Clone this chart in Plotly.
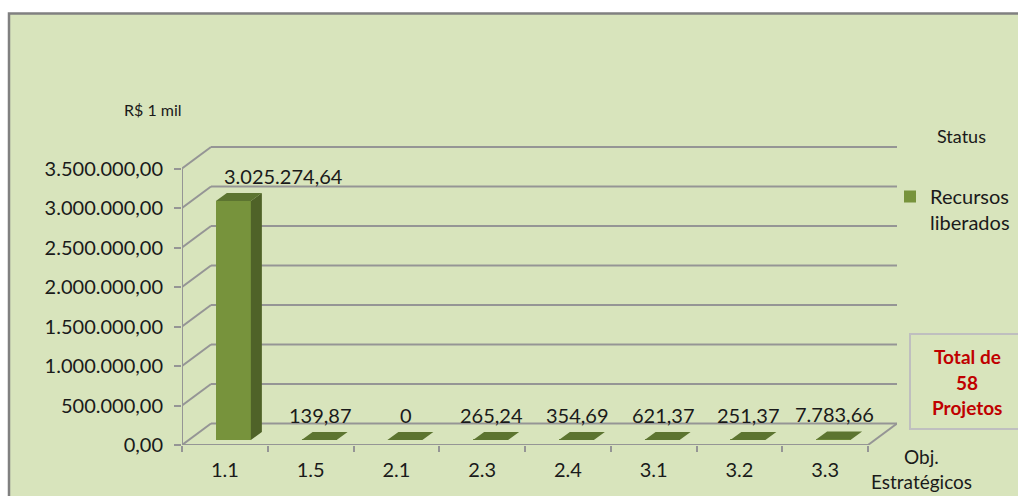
import plotly.graph_objects as go

# ---------------- data ----------------
categories = ["1.1", "1.5", "2.1", "2.3", "2.4", "3.1", "3.2", "3.3"]
values = [3025274.64, 139.87, 0, 265.24, 354.69, 621.37, 251.37, 7783.66]
value_labels = ["3.025.274,64", "139,87", "0", "265,24", "354,69", "621,37", "251,37", "7.783,66"]
series_name = "Recursos<br>liberados"
y_tickvals = [0, 500000, 1000000, 1500000, 2000000, 2500000, 3000000, 3500000]
y_ticktext = ["0,00", "500.000,00", "1.000.000,00", "1.500.000,00", "2.000.000,00",
              "2.500.000,00", "3.000.000,00", "3.500.000,00"]
y_max_tick = 3500000

# ---------------- geometry ----------------
W, H = 1018, 496
L, T = 182, 140
R = W - 897
B = H - 445
plot_w = W - L - R
plot_h = H - T - B
px_per_cat = 85.75
px_per_unit = 39.5 / 500000.0

def dx(px):
    return px / px_per_cat

def dy(px):
    return px / px_per_unit

wall_dx, wall_dy = dx(29), dy(21.5)
x_min = -0.5
x_max = len(categories) - 0.5 + wall_dx
y_top = plot_h / px_per_unit

bar_w = dx(35)
bar_shift_x = dx(8.5)
bar_base = dy(5)
bar_ddx, bar_ddy = dx(11), dy(8)

def px_x(p):
    return (p - L) / plot_w

def px_y(p):
    return (H - B - p) / plot_h

GRID = "#959595"
FRONT = "#77933C"
SIDE = "#4F6228"
TOP = "#5C7430"
FONT = "Lato, 'Open Sans', sans-serif"

fig = go.Figure()

side_x, side_y, top_x, top_y = [], [], [], []
for i, v in enumerate(values):
    xl = i + bar_shift_x - bar_w / 2
    xr = i + bar_shift_x + bar_w / 2
    b0 = bar_base
    b1 = bar_base + v
    side_x += [xr, xr + bar_ddx, xr + bar_ddx, xr, xr, None]
    side_y += [b0, b0 + bar_ddy, b1 + bar_ddy, b1, b0, None]
    top_x += [xl, xr, xr + bar_ddx, xl + bar_ddx, xl, None]
    top_y += [b1, b1, b1 + bar_ddy, b1 + bar_ddy, b1, None]

fig.add_trace(go.Scatter(x=side_x, y=side_y, mode="lines", fill="toself",
                         fillcolor=SIDE, line=dict(width=0, color=SIDE),
                         hoverinfo="skip", showlegend=False))
fig.add_trace(go.Scatter(x=top_x, y=top_y, mode="lines", fill="toself",
                         fillcolor=TOP, line=dict(width=0, color=TOP),
                         hoverinfo="skip", showlegend=False))

fig.add_trace(go.Bar(
    x=[i + bar_shift_x for i in range(len(categories))],
    y=values, base=bar_base, width=bar_w,
    marker=dict(color=FRONT, line=dict(width=0)),
    name=series_name, hoverinfo="skip", showlegend=True))

shapes = []
shapes.append(dict(type="rect", xref="paper", yref="paper",
                   x0=px_x(9), x1=px_x(1040), y0=px_y(13.5), y1=px_y(520),
                   line=dict(color="#808080", width=2.5), fillcolor="#D8E4BC",
                   layer="below"))
for v in y_tickvals:
    shapes.append(dict(type="line", xref="x", yref="y",
                       x0=x_min + wall_dx, x1=x_max, y0=v + wall_dy, y1=v + wall_dy,
                       line=dict(color=GRID, width=2), layer="below"))
    shapes.append(dict(type="line", xref="x", yref="y",
                       x0=x_min, x1=x_min + wall_dx, y0=v, y1=v + wall_dy,
                       line=dict(color=GRID, width=2), layer="below"))
shapes.append(dict(type="line", xref="x", yref="y", x0=x_min, x1=x_min,
                   y0=0, y1=y_max_tick, line=dict(color=GRID, width=2), layer="below"))
shapes.append(dict(type="line", xref="x", yref="y", x0=x_min, x1=len(categories) - 0.5,
                   y0=0, y1=0, line=dict(color=GRID, width=2), layer="below"))
shapes.append(dict(type="line", xref="x", yref="y", x0=len(categories) - 0.5,
                   x1=len(categories) - 0.5 + wall_dx, y0=0, y1=wall_dy,
                   line=dict(color=GRID, width=2), layer="below"))
shapes.append(dict(type="rect", xref="paper", yref="paper",
                   x0=px_x(910), x1=px_x(1040), y0=px_y(429), y1=px_y(334),
                   line=dict(color="#BFBFBF", width=2), fillcolor="rgba(0,0,0,0)"))

annotations = []
for i, (v, lab) in enumerate(zip(values, value_labels)):
    xl = i + bar_shift_x - bar_w / 2
    if v > 1000000:
        ax, anchor = xl + bar_ddx - dx(5), "left"
    else:
        ax, anchor = i + bar_shift_x + dx(1), "center"
    annotations.append(dict(x=ax, y=bar_base + v + bar_ddy, xref="x", yref="y",
                            text=lab, showarrow=False, xanchor=anchor,
                            yanchor="bottom", yshift=3,
                            font=dict(size=20, color="#1a1a1a")))

def txt(text, x, y, size, color="#1a1a1a", bold=False):
    annotations.append(dict(x=px_x(x), y=px_y(y), xref="paper", yref="paper",
                            text=("<b>%s</b>" % text) if bold else text,
                            showarrow=False, xanchor="center", yanchor="middle",
                            font=dict(size=size, color=color)))

txt("R$ 1 mil", 153, 110, 16)
txt("Status", 961, 136, 18)
txt("Obj.", 921, 456, 19)
txt("Estratégicos", 921, 481, 19)
txt("Total de", 967, 356, 19, "#C00000", True)
txt("58", 967, 382, 19, "#C00000", True)
txt("Projetos", 967, 407, 19, "#C00000", True)

fig.update_layout(
    width=W, height=H,
    margin=dict(l=L, r=R, t=T, b=B, pad=0, autoexpand=False),
    paper_bgcolor="white", plot_bgcolor="rgba(0,0,0,0)",
    font=dict(family=FONT, size=20, color="#1a1a1a"),
    bargap=0,
    showlegend=True,
    legend=dict(x=px_x(890), y=px_y(177), xanchor="left", yanchor="top",
                bgcolor="rgba(0,0,0,0)", borderwidth=0, valign="top",
                font=dict(size=20, color="#1a1a1a"), itemwidth=30),
    shapes=shapes, annotations=annotations,
    xaxis=dict(range=[x_min, x_max], tickmode="array",
               tickvals=list(range(len(categories))), ticktext=categories,
               ticks="", showgrid=False, zeroline=False, showline=False,
               ticklabelstandoff=11, tickfont=dict(size=20),
               minor=dict(tickmode="array",
                          tickvals=[k - 0.5 for k in range(len(categories) + 1)],
                          ticks="outside", ticklen=6, tickwidth=2, tickcolor=GRID,
                          showgrid=False),
               fixedrange=True),
    yaxis=dict(range=[0, y_top], tickmode="array", tickvals=y_tickvals,
               ticktext=y_ticktext, ticks="outside", ticklen=7, tickwidth=2,
               tickcolor=GRID, showgrid=False, zeroline=False, showline=False,
               ticklabelstandoff=7, tickfont=dict(size=20), fixedrange=True),
)

fig.write_html("out.html",
               config={"displayModeBar": False},
               post_script="document.body.style.margin='0';"
                           "document.body.style.overflow='hidden';")
